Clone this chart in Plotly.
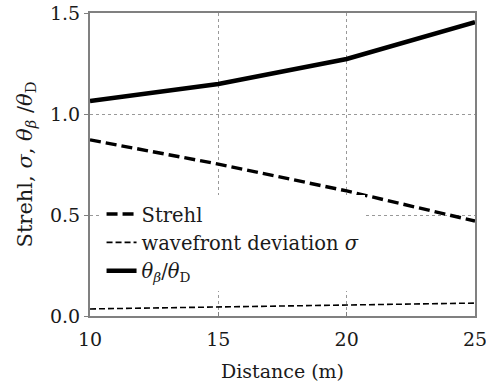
import plotly.graph_objects as go

distance = [10, 15, 20, 25]
strehl = [0.872, 0.752, 0.619, 0.470]
sigma = [0.035, 0.045, 0.055, 0.064]
theta_ratio = [1.064, 1.148, 1.272, 1.455]

x_ticks = [10, 15, 20, 25]
y_ticks = [0.0, 0.5, 1.0, 1.5]

FONT = "DejaVu Serif"

fig = go.Figure()
fig.add_trace(go.Scatter(x=distance, y=strehl, mode="lines", name="Strehl",
                         line=dict(color="black", width=3.4, dash="11px,5px")))
fig.add_trace(go.Scatter(x=distance, y=sigma, mode="lines", name="wavefront deviation <i>σ</i>",
                         line=dict(color="black", width=1.6, dash="6px,3px")))
fig.add_trace(go.Scatter(x=distance, y=theta_ratio, mode="lines",
                         name="<i>θ</i><sub><i>β</i></sub>/<i>θ</i><sub>D</sub>",
                         line=dict(color="black", width=4.6)))

fig.update_layout(
    width=486, height=387,
    margin=dict(l=90, r=11, t=13, b=71),
    paper_bgcolor="white", plot_bgcolor="white",
    font=dict(family=FONT, size=18, color="#1a1a1a"),
    showlegend=True,
    legend=dict(x=0.03, y=0.40, xanchor="left", yanchor="top",
                bgcolor="white", borderwidth=0, font=dict(size=19.5),
                tracegroupgap=0, itemwidth=30),
)
fig.update_xaxes(range=[10, 25], tickvals=x_ticks, ticktext=[str(v) for v in x_ticks],
                 tickfont=dict(size=19), automargin=False, ticklabeloverflow="allow",
                 ticklabelstandoff=5,
                 showline=True, linecolor="#808080", linewidth=2, mirror=True,
                 showgrid=True, gridcolor="#999", griddash="dot", gridwidth=1,
                 ticks="inside", ticklen=4, tickcolor="#808080",
                 title=dict(text="Distance (m)", standoff=16, font=dict(size=19)),
                 zeroline=False)
fig.update_yaxes(range=[0, 1.5], tickvals=y_ticks, ticktext=["0.0", "0.5", "1.0", "1.5"],
                 tickfont=dict(size=19), automargin=False, ticklabeloverflow="allow",
                 showline=True, linecolor="#808080", linewidth=2, mirror=True,
                 showgrid=True, gridcolor="#999", griddash="dot", gridwidth=1,
                 ticks="outside", ticklen=4, tickcolor="#808080",
                 title=dict(text="Strehl, <i>σ</i>, <i>θ</i><sub><i>β</i></sub> /<i>θ</i><sub>D</sub>",
                            standoff=12, font=dict(size=21)),
                 zeroline=False)

fig.write_html("out.html")
